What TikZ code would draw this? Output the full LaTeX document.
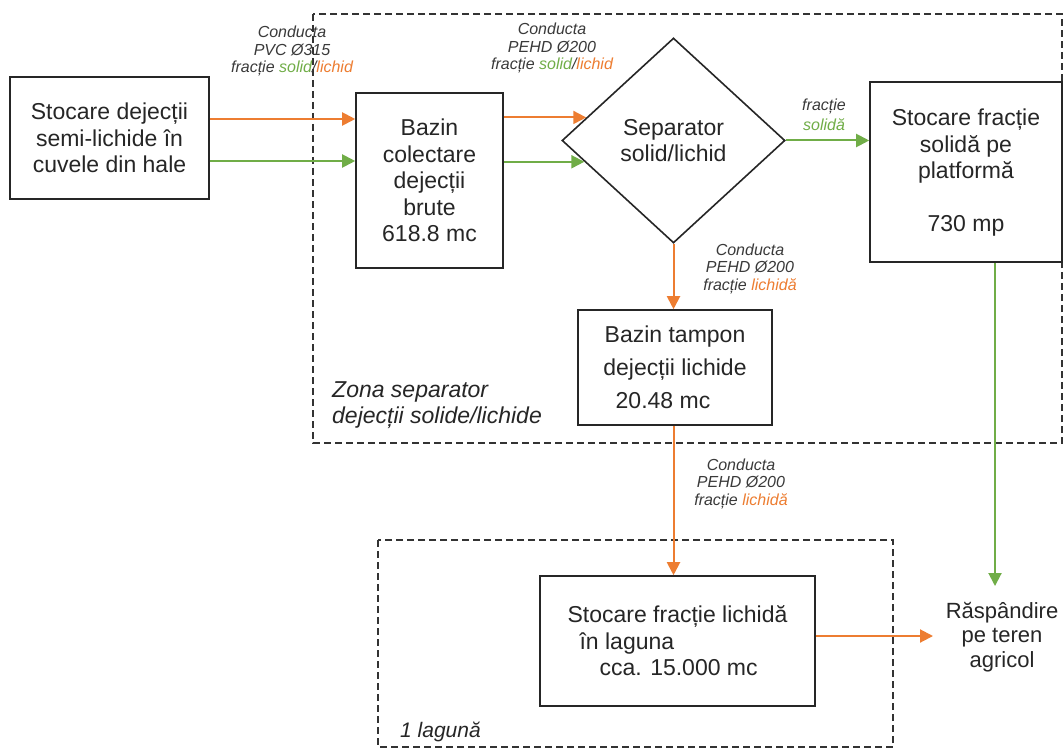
\documentclass[tikz,border=0pt]{standalone}
\usepackage{fontspec}
\setmainfont{Liberation Sans}
\usetikzlibrary{shapes.geometric,arrows.meta,calc}
\definecolor{org}{HTML}{ED7D31}
\definecolor{grn}{HTML}{70AD47}
\definecolor{txtc}{HTML}{262626}
\definecolor{lblc}{HTML}{3A3A3A}
\newcommand{\mfs}{\fontsize{23}{26.5}\selectfont}
\newcommand{\sfs}{\fontsize{16}{17.5}\selectfont\itshape}
\begin{document}
\begin{tikzpicture}[x=1pt,y=-1pt,
  box/.style={draw=black!85, line width=1.6pt, fill=white, inner sep=0pt, font=\mfs, text=txtc, align=center},
  lab/.style={inner sep=0pt, font=\sfs, text=lblc, align=center, anchor=base},
  zone/.style={draw=black!80, line width=1.5pt, dash pattern=on 7pt off 4pt},
  zlab/.style={inner sep=0pt, text=txtc, align=left, anchor=base west},
  oa/.style={draw=org, line width=2pt, -{Triangle[length=13pt,width=13pt]}},
  ga/.style={draw=grn, line width=2pt, -{Triangle[length=13pt,width=13pt]}}]
\useasboundingbox (0,0) rectangle (1064,754);
\fill[white] (0,0) rectangle (1064,754);

% zones
\draw[zone] (313,14) rectangle (1062,443);
\draw[zone] (378,540) rectangle (893,747);

% boxes
\node[box, minimum width=199pt, minimum height=122pt] (b1) at (109.5,138) {Stocare dejecții\\semi-lichide în\\cuvele din hale};
\node[box, minimum width=147pt, minimum height=175pt] (b2) at (429.5,180.5) {Bazin\\colectare\\dejecții\\brute\\618.8 mc};
\node[box, diamond, minimum width=223pt, minimum height=205pt] (sep) at (673.5,140.5) {Separator\\solid/lichid};
\node[box, minimum width=192pt, minimum height=180pt] (b4) at (966,172) {\\[-8pt]Stocare fracție\\solidă pe\\platformă\\[26.5pt]730 mp};
\node[box, minimum width=194pt, minimum height=115pt, font=\fontsize{23}{33}\selectfont] (tamp) at (675,367.5) {Bazin tampon\\dejecții lichide\\20.48 mc\hspace*{24pt}};
\node[box, minimum width=275pt, minimum height=130pt, align=left] (lag) at (677.5,641) {Stocare fracție lichidă\\\hspace*{12pt}în laguna\\\hspace*{32pt}cca. 15.000 mc};
\node[inner sep=0pt, font=\fontsize{22}{24.5}\selectfont, text=txtc, align=center] (rasp) at (1002,637) {Răspândire\\pe teren\\agricol};

% connector labels (anchor base = last line baseline)
\node[lab] (l1) at (292,73) {Conducta\\PVC Ø315\\fracție \textcolor{grn}{solid}/\textcolor{org}{lichid}};
\node[lab] (l2) at (552,70) {Conducta\\PEHD Ø200\\fracție \textcolor{grn}{solid}/\textcolor{org}{lichid}};
\node[lab, font=\fontsize{16}{20.5}\selectfont\itshape] (l3) at (824,131) {fracție\\\textcolor{grn}{solidă}};
\node[lab] (l4) at (750,290) {Conducta\\PEHD Ø200\\fracție \textcolor{org}{lichidă}};
\node[lab] (l5) at (741,505) {Conducta\\PEHD Ø200\\fracție \textcolor{org}{lichidă}};

% zone labels
\node[zlab, font=\fontsize{23}{26}\selectfont\itshape] (z1) at (332,423) {Zona separator\\dejecții solide/lichide};
\node[zlab, font=\fontsize{21}{24}\selectfont\itshape] (z2) at (400,737) {1 lagună};

% connectors
\coordinate (ya) at (0,119);
\coordinate (yb) at (0,161);
\draw[oa] (b1.east|-ya) -- (b2.west|-ya);
\draw[ga] (b1.east|-yb) -- (b2.west|-yb);
\coordinate (ta) at ($(sep.west)!0.223!(sep.north)$);
\coordinate (tb) at ($(sep.west)!0.206!(sep.south)$);
\draw[oa] (b2.east|-ta) -- (ta);
\draw[ga] (b2.east|-tb) -- (tb);
\draw[ga] (sep.east) -- (b4.west|-sep.east);
\draw[oa] (sep.south) -- (sep.south|-tamp.north);
\draw[oa] (sep.south|-tamp.south) -- (sep.south|-lag.north);
\coordinate (gend) at (995,586);
\draw[ga] (b4.south-|gend) -- (gend);
\coordinate (oend) at (933,636);
\draw[oa] (lag.east|-oend) -- (oend);
\end{tikzpicture}
\end{document}
